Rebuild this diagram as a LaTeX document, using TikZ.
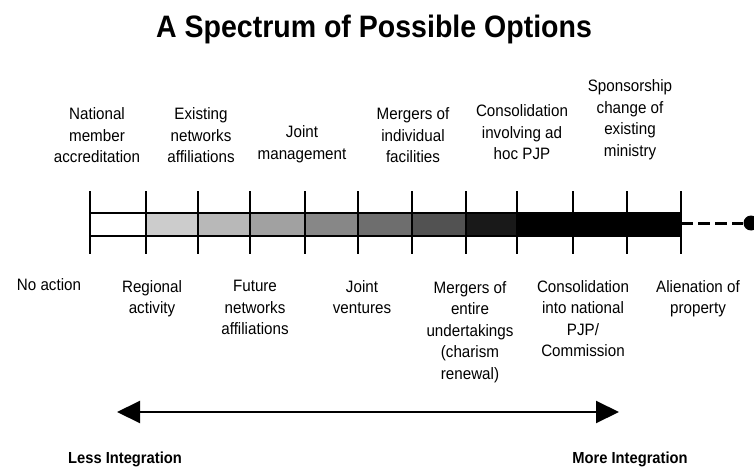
\documentclass[tikz,border=0pt]{standalone}
\usepackage{fontspec}
\setmainfont{Liberation Sans}[FakeStretch=0.92]
\usetikzlibrary{arrows.meta, positioning}

\begin{document}
\begin{tikzpicture}[
        x=1pt, y=-1pt,
        title/.style={font=\fontsize{31}{36}\selectfont\bfseries, inner sep=0pt, anchor=base},
        toplabel/.style={font=\fontsize{16.5}{21.5}\selectfont, align=center, inner sep=0pt, anchor=south},
        botlabel/.style={font=\fontsize{16.5}{21.5}\selectfont, align=center, inner sep=0pt, anchor=north},
        endlabel/.style={font=\fontsize{16}{19}\selectfont\bfseries, inner sep=0pt, anchor=base},
        tick/.style={line width=2pt},
        barline/.style={line width=2pt},
        arrow/.style={{Triangle[length=23pt, width=22pt]}-{Triangle[length=23pt, width=22pt]}, line width=2pt}
      ]
        \useasboundingbox (0,0) rectangle (754,468);
        \node (title) [title] at (374,38) {A Spectrum of Possible Options};

        % shaded bar
        \foreach \xa/\xb/\shade in {146/198/20, 198/250/28, 250/305/37, 305/358/47, 358/412/57, 412/466/68, 466/517/90, 517/681/100}
          \fill[black!\shade] (\xa,213) rectangle (\xb,236);
        \draw[barline] (90,213) rectangle (681,236);
        \foreach \x in {90,146,198,250,305,358,412,466,517,573,627,681}
          \draw[tick] (\x,191) -- (\x,254);
        \coordinate (barend) at (681,223);
        \node (enddot) [circle, fill=black, inner sep=0pt, minimum size=15pt] at (751,223) {};
        \draw[line width=3pt, dash pattern=on 12pt off 5pt] (barend) -- (enddot);

        % options above the bar
        \node (natacc) [toplabel] at (97,163) {National\\member\\accreditation};
        \node (existnet) [toplabel] at (201,163) {Existing\\networks\\affiliations};
        \node (jointman) [toplabel] at (302,163) {Joint\\management};
        \node (mergind) [toplabel] at (413,163) {Mergers of\\individual\\facilities};
        \node (consadhoc) [toplabel] at (522,160) {Consolidation\\involving ad\\hoc PJP};
        \node (sponsor) [toplabel] at (630,160) {Sponsorship\\change of\\existing\\ministry};

        % options below the bar
        \node (noaction) [botlabel] at (49,278) {No action};
        \node (regional) [botlabel] at (152,280) {Regional\\activity};
        \node (futurenet) [botlabel] at (255,280) {Future\\networks\\affiliations};
        \node (jointvent) [botlabel] at (362,280) {Joint\\ventures};
        \node (mergent) [botlabel] at (470,281) {Mergers of\\entire\\undertakings\\(charism\\renewal)};
        \node (consnat) [botlabel] at (583,280) {Consolidation\\into national\\PJP/\\Commission};
        \node (alien) [botlabel] at (698,280) {Alienation of\\property};

        % integration axis
        \coordinate (lessend) at (117,412);
        \coordinate (moreend) at (619,412);
        \draw[arrow] (lessend) -- (moreend);
        \node (lessint) [endlabel] at (125,463) {Less Integration};
        \node (moreint) [endlabel] at (630,463) {More Integration};
      \end{tikzpicture}
\end{document}
